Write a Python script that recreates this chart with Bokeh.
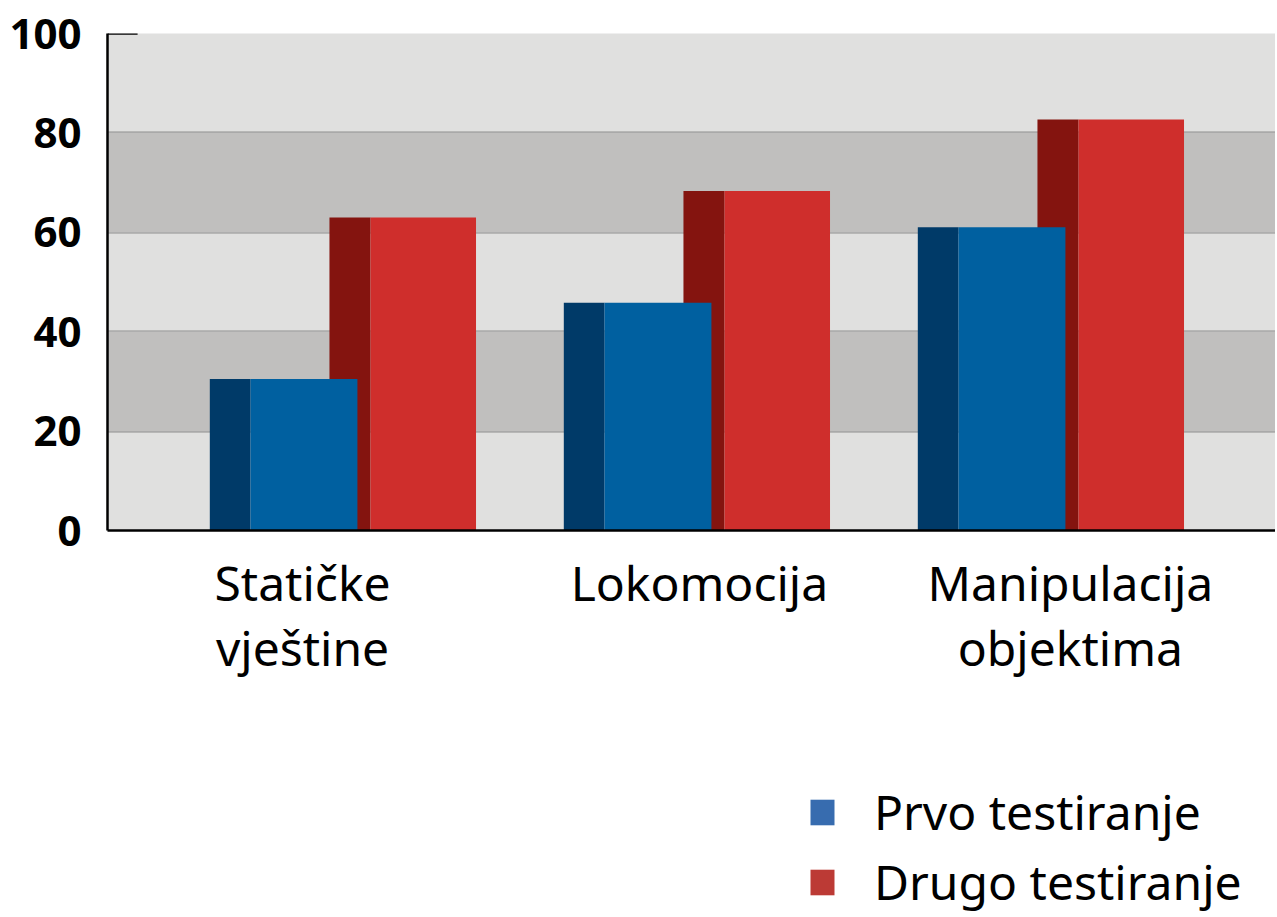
from bokeh.plotting import figure
from bokeh.models import FixedTicker, BoxAnnotation, ColumnDataSource, Legend, LegendItem, Range1d
from bokeh.layouts import column
from bokeh.transform import dodge
from bokeh.embed import file_html
from bokeh.resources import INLINE

categories = ["Statičke\nvještine", "Lokomocija", "Manipulacija\nobjektima"]
prvo = [30.5, 45.8, 61.0]
drugo = [63.0, 68.3, 82.7]
y_ticks = [0, 20, 40, 60, 80, 100]
dark_bands = [(20, 40), (60, 80)]
series_names = ["Prvo testiranje", "Drugo testiranje"]

# layout constants
label_shift = [-0.113, 0.008, 0.056]
FONT = "Noto Sans"
W = 1275
H_MAIN = 700
H_LEG = 217

xi = list(range(len(categories)))
src = ColumnDataSource(dict(x=xi, prvo=prvo, drugo=drugo))

x0 = -0.664
x1 = x0 + (W - 107) / 354.0
p = figure(width=W, height=H_MAIN, output_backend="svg", toolbar_location=None,
           x_range=Range1d(x0, x1), y_range=Range1d(0, 100),
           min_border_left=107, min_border_right=0, min_border_top=33,
           min_border_bottom=H_MAIN - 530)
p.outline_line_color = None
p.background_fill_color = "#e0e0df"
p.border_fill_color = "white"

for b0, b1 in dark_bands:
    p.add_layout(BoxAnnotation(bottom=b0, top=b1, fill_color="#c0bfbe", fill_alpha=1,
                               line_color=None, level="underlay"))

p.xgrid.visible = False
p.ygrid.ticker = FixedTicker(ticks=y_ticks[1:-1])
p.ygrid.grid_line_color = "#a9a9a9"
p.ygrid.grid_line_width = 2.5
p.ygrid.level = "underlay"

# bars: red behind, blue in front (side face + front face)
p.vbar(x=dodge("x", 0.021, range=p.x_range), width=0.116, top="drugo", bottom=0, source=src,
       fill_color="#84140f", line_color=None)
p.vbar(x=dodge("x", 0.228, range=p.x_range), width=0.298, top="drugo", bottom=0, source=src,
       fill_color="#cf2e2c", line_color=None)
p.vbar(x=dodge("x", -0.3175, range=p.x_range), width=0.115, top="prvo", bottom=0, source=src,
       fill_color="#003a68", line_color=None)
p.vbar(x=dodge("x", -0.109, range=p.x_range), width=0.302, top="prvo", bottom=0, source=src,
       fill_color="#0060a0", line_color=None)

# short top tick at 100
p.segment(x0=[x0], x1=[x0 + 0.085], y0=[y_ticks[-1]], y1=[y_ticks[-1]],
          line_color="black", line_width=2.5)

# y axis
p.yaxis.ticker = FixedTicker(ticks=y_ticks)
p.yaxis.axis_line_color = "black"
p.yaxis.axis_line_width = 2.5
p.yaxis.major_tick_line_color = None
p.yaxis.minor_tick_line_color = None
p.yaxis.major_label_text_font = FONT
p.yaxis.major_label_text_font_style = "bold"
p.yaxis.major_label_text_font_size = "42px"
p.yaxis.major_label_text_color = "black"
p.yaxis.major_label_standoff = 20

# x axis
label_pos = [x + s for x, s in zip(xi, label_shift)]
p.xaxis.ticker = FixedTicker(ticks=label_pos)
p.xaxis.major_label_overrides = {lp: c for lp, c in zip(label_pos, categories)}
p.xaxis.axis_line_color = "black"
p.xaxis.axis_line_width = 2.5
p.xaxis.major_tick_line_color = None
p.xaxis.minor_tick_line_color = None
p.xaxis.major_label_text_font = FONT
p.xaxis.major_label_text_font_size = "48px"
p.xaxis.major_label_text_color = "black"
p.xaxis.major_label_text_line_height = 1.0
p.xaxis.major_label_standoff = 13

# legend figure
lf = figure(width=W, height=H_LEG, output_backend="svg", toolbar_location=None,
            x_range=Range1d(0, 1), y_range=Range1d(0, 1),
            x_axis_location=None, y_axis_location=None,
            min_border=0)
lf.outline_line_color = None
lf.grid.visible = False
# zero-size proxy glyphs so the legend can draw its swatches
r1 = lf.quad(left=[0], right=[0], top=[0], bottom=[0], fill_color="#376caf", line_color=None)
r2 = lf.quad(left=[0], right=[0], top=[0], bottom=[0], fill_color="#bc3a35", line_color=None)
legend = Legend(items=[LegendItem(label=series_names[0], renderers=[r1]),
                       LegendItem(label=series_names[1], renderers=[r2])],
                location=(700, 3))
legend.glyph_width = 30
legend.glyph_height = 32
legend.label_text_font = FONT
legend.label_text_font_size = "48px"
legend.label_text_color = "black"
legend.label_standoff = 37
legend.spacing = 5
legend.padding = 0
legend.margin = 0
legend.border_line_color = None
legend.background_fill_alpha = 0
lf.add_layout(legend)

layout = column(p, lf, spacing=0)
open("out.html", "w").write(file_html(layout, INLINE))
